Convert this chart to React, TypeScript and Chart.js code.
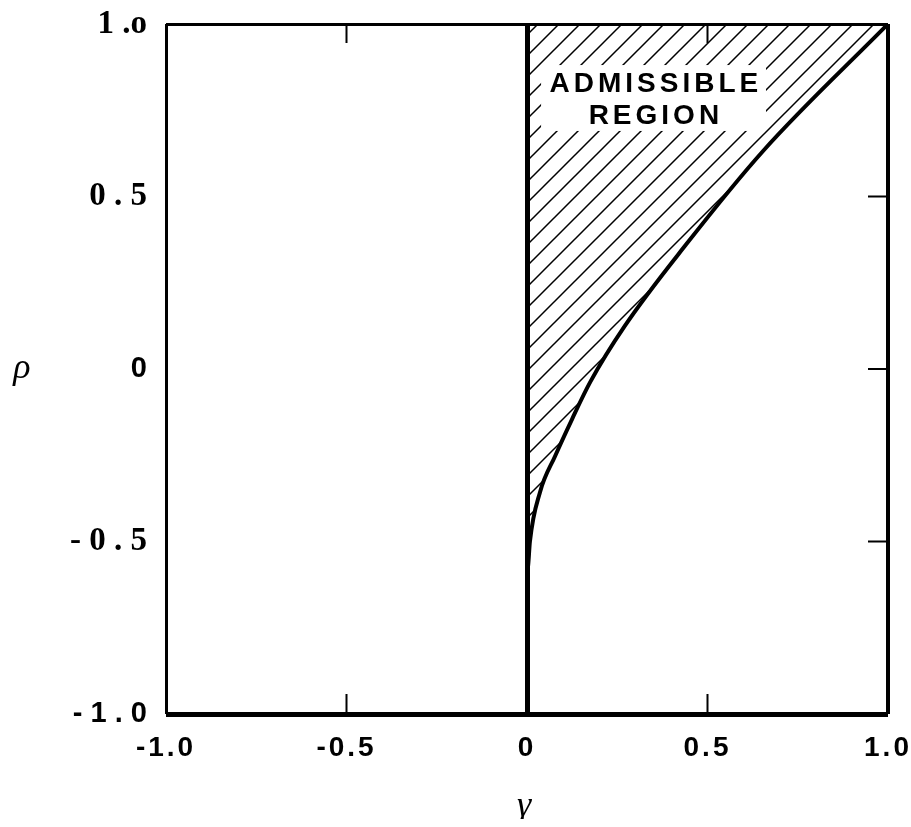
import React, { useEffect, useRef } from 'react';
import { Chart, registerables } from 'chart.js';

Chart.register(...registerables);

// ---- data ----
const gammaValues = [0, 0.003, 0.008, 0.036, 0.078, 0.125, 0.175, 0.271, 0.44, 0.654, 1.0];
const rhoValues = [-0.58, -0.571, -0.501, -0.357, -0.252, -0.145, -0.038, 0.125, 0.36, 0.632, 1.0];

const xTickValues = [-1, -0.5, 0, 0.5, 1];
const xTickLabels = ['-1.0', '-0.5', '0', '0.5', '1.0'];
const yTickValues = [-1, -0.5, 0, 0.5, 1];
const yTickLabels = ['- 1 . 0', '- 0 . 5', '0', '0 . 5', '1 .o'];
const ySansTicks = [-1, 0];

const regionLines = ['ADMISSIBLE', 'REGION'];
const regionAnchorX = 0.357;
const regionLineY = [0.829, 0.736];
const regionBoxX = [0.039, 0.662];
const regionBoxY = [0.69, 0.881];

const xAxisTitle = 'γ';
const yAxisTitle = 'ρ';

const innerTicksTopBottom = [-0.5, 0.5];
const innerTicksRight = [-0.5, 0, 0.5];

const xGridWidths: Record<string, number> = { '-1': 3, '0': 5, '1': 4 };
const yGridWidths: Record<string, number> = { '1': 3, '-1': 5 };

const W = 903;
const H = 811;

function makeHatch(ctx: CanvasRenderingContext2D) {
  const s = 21;
  const p = document.createElement('canvas');
  p.width = s;
  p.height = s;
  const c = p.getContext('2d')!;
  c.strokeStyle = '#000';
  c.lineWidth = 1.5;
  c.lineCap = 'butt';
  c.beginPath();
  c.moveTo(-2, s + 2);
  c.lineTo(s + 2, -2);
  c.moveTo(-3, 3);
  c.lineTo(3, -3);
  c.moveTo(s - 3, s + 3);
  c.lineTo(s + 3, s - 3);
  c.stroke();
  return ctx.createPattern(p, 'repeat')!;
}

const decorPlugin = {
  id: 'decor',
  beforeDraw(chart: any) {
    (chart.ctx as any).letterSpacing = '3px';
  },
  beforeDatasetsDraw(chart: any) {
    (chart.ctx as any).letterSpacing = '0px';
  },
  afterDatasetsDraw(chart: any) {
    const { ctx, chartArea, scales } = chart;
    const xs = scales.x;
    const ys = scales.y;
    ctx.save();
    (ctx as any).letterSpacing = '0px';
    // inward tick marks
    ctx.strokeStyle = '#000';
    ctx.lineWidth = 2;
    ctx.beginPath();
    innerTicksTopBottom.forEach((v) => {
      const px = xs.getPixelForValue(v);
      ctx.moveTo(px, chartArea.top);
      ctx.lineTo(px, chartArea.top + 19);
      ctx.moveTo(px, chartArea.bottom);
      ctx.lineTo(px, chartArea.bottom - 20);
    });
    innerTicksRight.forEach((v) => {
      const py = ys.getPixelForValue(v);
      ctx.moveTo(chartArea.right, py);
      ctx.lineTo(chartArea.right - 20, py);
    });
    ctx.stroke();

    // white box behind the region label
    const bx0 = xs.getPixelForValue(regionBoxX[0]);
    const bx1 = xs.getPixelForValue(regionBoxX[1]);
    const by0 = ys.getPixelForValue(regionBoxY[1]);
    const by1 = ys.getPixelForValue(regionBoxY[0]);
    ctx.fillStyle = '#fff';
    ctx.fillRect(bx0, by0, bx1 - bx0, by1 - by0);

    ctx.fillStyle = '#000';
    ctx.font = 'bold 28px "Liberation Sans", Arial, sans-serif';
    (ctx as any).letterSpacing = '4px';
    ctx.textAlign = 'center';
    ctx.textBaseline = 'middle';
    regionLines.forEach((t, i) => {
      ctx.fillText(t, xs.getPixelForValue(regionAnchorX), ys.getPixelForValue(regionLineY[i]) + 1);
    });

    // axis symbols
    (ctx as any).letterSpacing = '0px';
    ctx.textBaseline = 'alphabetic';
    ctx.font = 'italic 36px "Liberation Serif", serif';
    ctx.fillText(yAxisTitle, 14, ys.getPixelForValue(0) + 9);
    ctx.fillText(xAxisTitle, xs.getPixelForValue(0) - 3, chartArea.bottom + 102);
    ctx.restore();
  },
};

export default function App() {
  const canvasRef = useRef<HTMLCanvasElement | null>(null);

  useEffect(() => {
    const prevMargin = document.body.style.margin;
    document.body.style.margin = '0';
    const canvas = canvasRef.current!;
    const ctx = canvas.getContext('2d')!;
    const hatch = makeHatch(ctx);
    const chart = new Chart(ctx, {
      type: 'line',
      data: {
        datasets: [
          {
            data: gammaValues.map((g, i) => ({ x: g, y: rhoValues[i] })),
            borderColor: '#000',
            borderWidth: 4,
            pointRadius: 0,
            fill: 'end',
            backgroundColor: hatch,
            cubicInterpolationMode: 'monotone',
          },
        ],
      },
      options: {
        animation: false,
        responsive: false,
        devicePixelRatio: 1,
        layout: { padding: { top: 16, right: 23, left: 0, bottom: 0 } },
        plugins: { legend: { display: false }, tooltip: { enabled: false } },
        scales: {
          x: {
            type: 'linear',
            min: -1,
            max: 1,
            afterFit: (s: any) => {
              s.height = 105;
              s.paddingLeft = 0;
              s.paddingRight = 0;
            },
            border: { display: false },
            grid: {
              drawTicks: false,
              lineWidth: (c: any) => xGridWidths[String(c.tick.value)] || 0,
              color: (c: any) => (xGridWidths[String(c.tick.value)] ? '#000' : 'rgba(0,0,0,0)'),
            },
            ticks: {
              stepSize: 0.5,
              autoSkip: false,
              maxRotation: 0,
              padding: 17,
              color: '#000',
              font: { family: '"Liberation Sans", Arial, sans-serif', size: 28, weight: 'bold' },
              callback: (v: any) => {
                const i = xTickValues.indexOf(Number(v));
                return i >= 0 ? xTickLabels[i] : '';
              },
            },
          },
          y: {
            type: 'linear',
            min: -1,
            max: 1,
            afterFit: (s: any) => {
              s.width = 158;
              s.paddingTop = 0;
              s.paddingBottom = 0;
            },
            border: { display: false },
            grid: {
              drawTicks: false,
              lineWidth: (c: any) => yGridWidths[String(c.tick.value)] || 0,
              color: (c: any) => (yGridWidths[String(c.tick.value)] ? '#000' : 'rgba(0,0,0,0)'),
            },
            ticks: {
              z: 1,
              stepSize: 0.5,
              autoSkip: false,
              padding: 19,
              color: '#000',
              font: (c: any) =>
                ySansTicks.includes(c.tick && c.tick.value)
                  ? { family: '"Liberation Sans", Arial, sans-serif', size: 29, weight: 'bold' }
                  : { family: '"Liberation Serif", "Times New Roman", serif', size: 33, weight: 'bold' },
              callback: (v: any) => {
                const i = yTickValues.indexOf(Number(v));
                return i >= 0 ? yTickLabels[i] : '';
              },
            },
          },
        },
      },
      plugins: [decorPlugin],
    } as any);
    return () => {
      chart.destroy();
      document.body.style.margin = prevMargin;
    };
  }, []);

  return (
    <div style={{ width: 911, height: 827, boxSizing: 'border-box', padding: '8px 0 0 8px', overflow: 'hidden' }}>
      <canvas ref={canvasRef} width={W} height={H} style={{ display: 'block', width: W, height: H }} />
    </div>
  );
}
